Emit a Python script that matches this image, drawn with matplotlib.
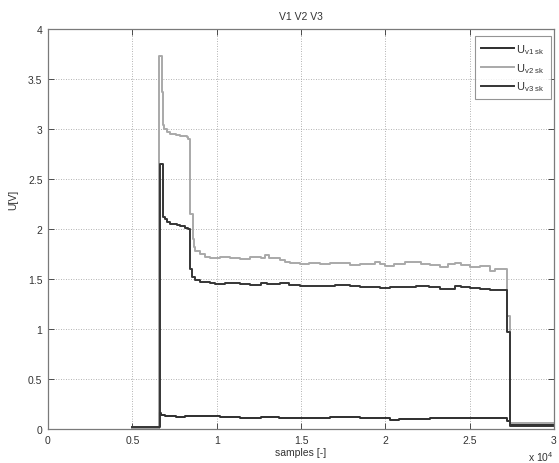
import matplotlib
matplotlib.use("Agg")
import matplotlib.pyplot as plt
from matplotlib.ticker import FixedLocator

plt.rcParams['font.family'] = ['Liberation Sans', 'DejaVu Sans']
plt.rcParams['mathtext.fontset'] = 'custom'
plt.rcParams['mathtext.rm'] = 'Liberation Sans'

# U_v1 sk : sample index where each level starts, and the level [V]
v1_samples = [5000, 6590, 6700, 6930, 7600, 8100, 8700, 9600, 10200, 11400,
              12600, 13700, 15000, 16700, 17300, 18500, 19700, 20300, 20800,
              21500, 22650, 24500, 27200, 27400, 30000]
v1_values = [0.01, 0.157, 0.14, 0.127, 0.12, 0.127, 0.133, 0.13, 0.12, 0.113,
             0.12, 0.113, 0.113, 0.117, 0.122, 0.115, 0.11, 0.09, 0.10,
             0.105, 0.11, 0.108, 0.085, 0.045, 0.045]

# U_v2 sk
v2_samples = [5000, 6590, 6770, 6800, 6900, 7050, 7220, 7600, 7820, 8230,
              8330, 8420, 8590, 8650, 8710, 9000, 9300, 9600, 10200, 10800,
              11400, 12000, 12600, 12860, 13100, 13750, 14050, 14340, 14940,
              15500, 16120, 16700, 17300, 17900, 18500, 19390, 19700, 19980,
              20500, 20870, 21170, 21760, 22100, 22650, 23250, 23700, 24140,
              24500, 25030, 25620, 26210, 26500, 27230, 27400, 30000]
v2_values = [0.01, 3.73, 3.37, 3.04, 3.00, 2.97, 2.95, 2.94, 2.93, 2.92,
             2.90, 2.15, 1.90, 1.82, 1.78, 1.75, 1.72, 1.71, 1.72, 1.71,
             1.70, 1.72, 1.71, 1.74, 1.71, 1.69, 1.67, 1.66, 1.65,
             1.66, 1.65, 1.66, 1.66, 1.64, 1.65, 1.67, 1.65, 1.63,
             1.65, 1.65, 1.67, 1.67, 1.65, 1.64, 1.62, 1.65, 1.66,
             1.64, 1.62, 1.63, 1.58, 1.60, 1.13, 0.065, 0.065]

# U_v3 sk
v3_samples = [5000, 6630, 6790, 6930, 7045, 7220, 7640, 7820, 8110, 8300,
              8410, 8530, 8710, 9000, 9600, 9900, 10500, 11400, 12000, 12600,
              13000, 13750, 14300, 14940, 16000, 17000, 17900, 18500, 19690,
              20300, 20870, 21800, 22600, 23250, 24140, 24500, 25030, 25600,
              26210, 27230, 27400, 30000]
v3_values = [0.02, 2.65, 2.12, 2.10, 2.07, 2.05, 2.04, 2.03, 2.01, 2.00,
             1.60, 1.52, 1.49, 1.47, 1.46, 1.45, 1.46, 1.45, 1.44, 1.46,
             1.45, 1.46, 1.44, 1.43, 1.43, 1.44, 1.43, 1.42, 1.41,
             1.42, 1.42, 1.43, 1.42, 1.40, 1.43, 1.42, 1.41, 1.40,
             1.39, 0.97, 0.035, 0.035]

x_ticks = [0, 5000, 10000, 15000, 20000, 25000, 30000]
x_tick_labels = ['0', '0.5', '1', '1.5', '2', '2.5', '3']
y_ticks = [0, 0.5, 1, 1.5, 2, 2.5, 3, 3.5, 4]
y_tick_labels = ['0', '0.5', '1', '1.5', '2', '2.5', '3', '3.5', '4']

fig = plt.figure(figsize=(5.59, 4.64), dpi=100)
ax = fig.add_axes([48 / 559, 34 / 464, (554 - 48) / 559, (430 - 30) / 464])

ax.step(v1_samples, v1_values, where='post', color='#2e2e2e', lw=1.4,
        label=r'U$_{\mathrm{v1\ sk}}$')
ax.step(v2_samples, v2_values, where='post', color='#a9a9a9', lw=1.4,
        label=r'U$_{\mathrm{v2\ sk}}$')
ax.step(v3_samples, v3_values, where='post', color='#353535', lw=1.4,
        label=r'U$_{\mathrm{v3\ sk}}$')

ax.set_xlim(0, 30000)
ax.set_ylim(0, 4)
ax.xaxis.set_major_locator(FixedLocator(x_ticks))
ax.set_xticklabels(x_tick_labels)
ax.yaxis.set_major_locator(FixedLocator(y_ticks))
ax.set_yticklabels(y_tick_labels)

ax.grid(True, linestyle=(0, (1, 2)), color='#9a9a9a', lw=0.6)
ax.tick_params(direction='in', length=4, width=0.6, labelsize=7.5,
               colors='#333333', top=True, right=True, pad=4)
for s in ax.spines.values():
    s.set_color('#7a7a7a')
    s.set_linewidth(0.9)

ax.set_title('V1 V2 V3', fontsize=7.5, color='#333333', pad=7)
ax.set_xlabel('samples [-]', fontsize=7.5, color='#333333', labelpad=2)
ax.set_ylabel('U[V]', fontsize=7.5, color='#333333')
ax.yaxis.set_label_coords(-0.058, 0.575)
ax.text(1.0, -0.068, r'x 10$^4$', transform=ax.transAxes, ha='right',
        va='center', fontsize=7.5, color='#333333')

leg = ax.legend(loc='upper right', bbox_to_anchor=(0.994, 0.983),
                fontsize=8, frameon=True, fancybox=False, handlelength=3.0,
                handletextpad=0.15, borderpad=0.55, labelspacing=0.45,
                borderaxespad=0.0)
leg.get_frame().set_edgecolor('#7a7a7a')
leg.get_frame().set_linewidth(0.8)
for t in leg.get_texts():
    t.set_color('#333333')

fig.savefig('out.png', dpi=100)
